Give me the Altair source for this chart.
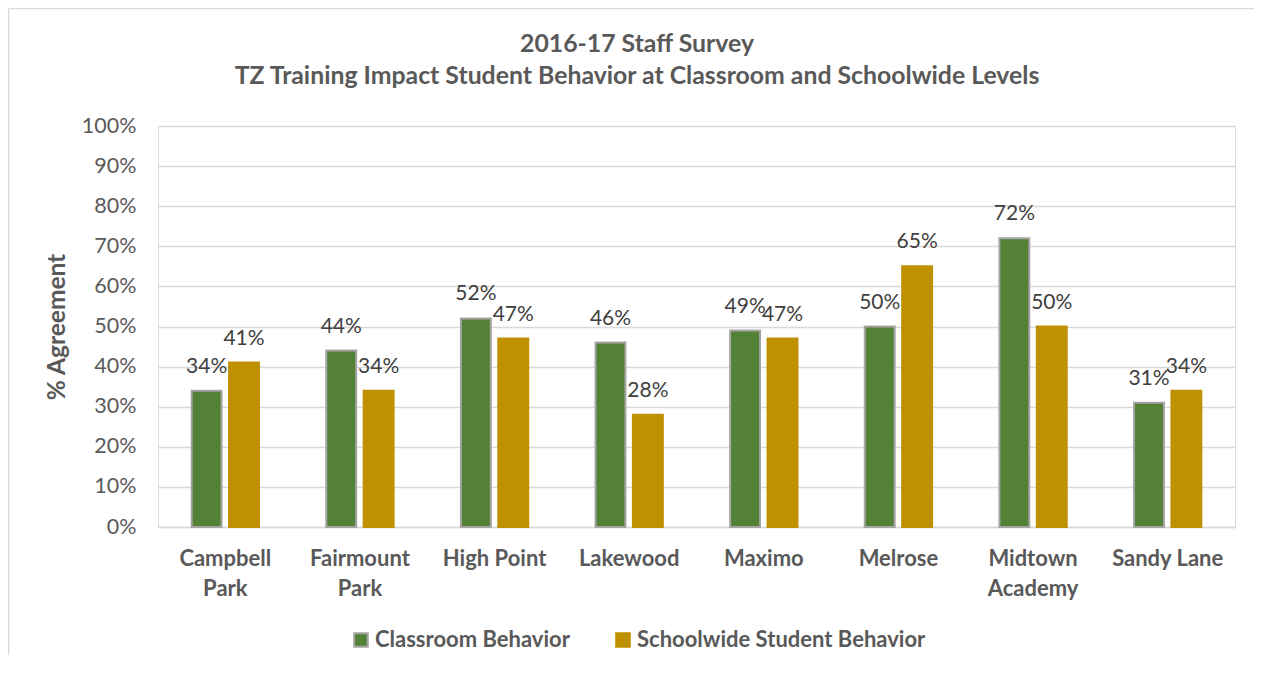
import altair as alt
import pandas as pd

title_lines = ["2016-17 Staff Survey", "TZ Training Impact Student Behavior at Classroom and Schoolwide Levels"]
schools = ["Campbell Park", "Fairmount Park", "High Point", "Lakewood", "Maximo", "Melrose", "Midtown Academy", "Sandy Lane"]
school_lines = [["Campbell", "Park"], ["Fairmount", "Park"], ["High Point"], ["Lakewood"], ["Maximo"], ["Melrose"], ["Midtown", "Academy"], ["Sandy Lane"]]
classroom = [34, 44, 52, 46, 49, 50, 72, 31]
schoolwide = [41, 34, 47, 28, 47, 65, 50, 34]
series = ["Classroom Behavior", "Schoolwide Student Behavior"]
colors = ["#538135", "#BF9000"]
strokes = ["#A5A5A5", "#BF9000"]

rows = []
for s, a, b in zip(schools, classroom, schoolwide):
    rows.append({"school": s, "series": series[0], "value": a / 100})
    rows.append({"school": s, "series": series[1], "value": b / 100})
df = pd.DataFrame(rows)

FONT = "Lato"
GRAY = "#595959"

label_expr = ""
for name, lines in zip(schools, school_lines):
    arr = "[" + ",".join("'" + l + "'" for l in lines) + "]"
    label_expr += f"datum.label == '{name}' ? {arr} : "
label_expr += "datum.label"

x = alt.X("school:N", sort=schools, title=None,
          scale=alt.Scale(paddingInner=0.5, paddingOuter=0.25),
          axis=alt.Axis(labelExpr=label_expr,
                        labelAngle=0, labelFont=FONT, labelFontSize=22, labelFontWeight="bold",
                        labelColor=GRAY, labelPadding=21, labelLineHeight=30, labelLimit=300,
                        domainColor="#D9D9D9", domainWidth=1.5, ticks=False))
xo = alt.XOffset("series:N", sort=series, scale=alt.Scale(paddingInner=0.2))

legend = alt.Legend(orient="none", legendX=192, legendY=503, direction="horizontal",
                    symbolType="square", symbolSize=185, labelFont=FONT,
                    labelFontSize=22, labelFontWeight="bold", labelColor=GRAY, labelLimit=500,
                    columnPadding=42, labelOffset=3, symbolStrokeWidth=2)

base = alt.Chart(df)

bars = base.mark_bar(strokeWidth=2).encode(
    x=x, xOffset=xo,
    y=alt.Y("value:Q", scale=alt.Scale(domain=[0, 1]), title="% Agreement",
            axis=alt.Axis(format=".0%", values=[i / 10 for i in range(11)],
                          labelFont=FONT, labelFontSize=21.5, labelColor=GRAY, labelPadding=22,
                          titleFont=FONT, titleFontSize=24.5, titleFontWeight="bold", titleColor=GRAY,
                          titlePadding=12, gridColor="#D9D9D9", gridWidth=1.5,
                          domain=False, ticks=False)),
    color=alt.Color("series:N", sort=series, scale=alt.Scale(domain=series, range=colors), title=None,
                    legend=legend),
    stroke=alt.Stroke("series:N", sort=series, scale=alt.Scale(domain=series, range=strokes), title=None,
                      legend=legend),
)

labels = base.mark_text(dy=-24, font=FONT, fontSize=21, color="#404040").encode(
    x=alt.X("school:N", sort=schools), xOffset=xo,
    y="value:Q",
    text=alt.Text("value:Q", format=".0%"),
)

one = pd.DataFrame({"v": [0]})
frame_left = alt.Chart(one).mark_rule(stroke="#D9D9D9", strokeWidth=1.5).encode(
    x=alt.value(-149.5), y=alt.value(-117.5), y2=alt.value(560))
frame_top = alt.Chart(one).mark_rule(stroke="#D9D9D9", strokeWidth=1.5).encode(
    x=alt.value(-149.5), x2=alt.value(1120), y=alt.value(-117.5))

title1 = alt.Chart(one).mark_text(font=FONT, fontSize=24.8, fontWeight="bold", color=GRAY, align="center", baseline="middle").encode(
    x=alt.value(479), y=alt.value(-81), text=alt.value(title_lines[0]))
title2 = alt.Chart(one).mark_text(font=FONT, fontSize=24.8, fontWeight="bold", color=GRAY, align="center", baseline="middle").encode(
    x=alt.value(479), y=alt.value(-49), text=alt.value(title_lines[1]))

chart = alt.layer(frame_left, frame_top, bars, labels, title1, title2).properties(
    width=1077, height=401,
    autosize=alt.AutoSizeParams(type="none"),
    padding={"left": 150, "top": 118, "right": 19, "bottom": 128},
).configure_view(stroke=None).configure(background="white")

chart.save("out.html", embed_options={"renderer": "svg", "actions": False})
